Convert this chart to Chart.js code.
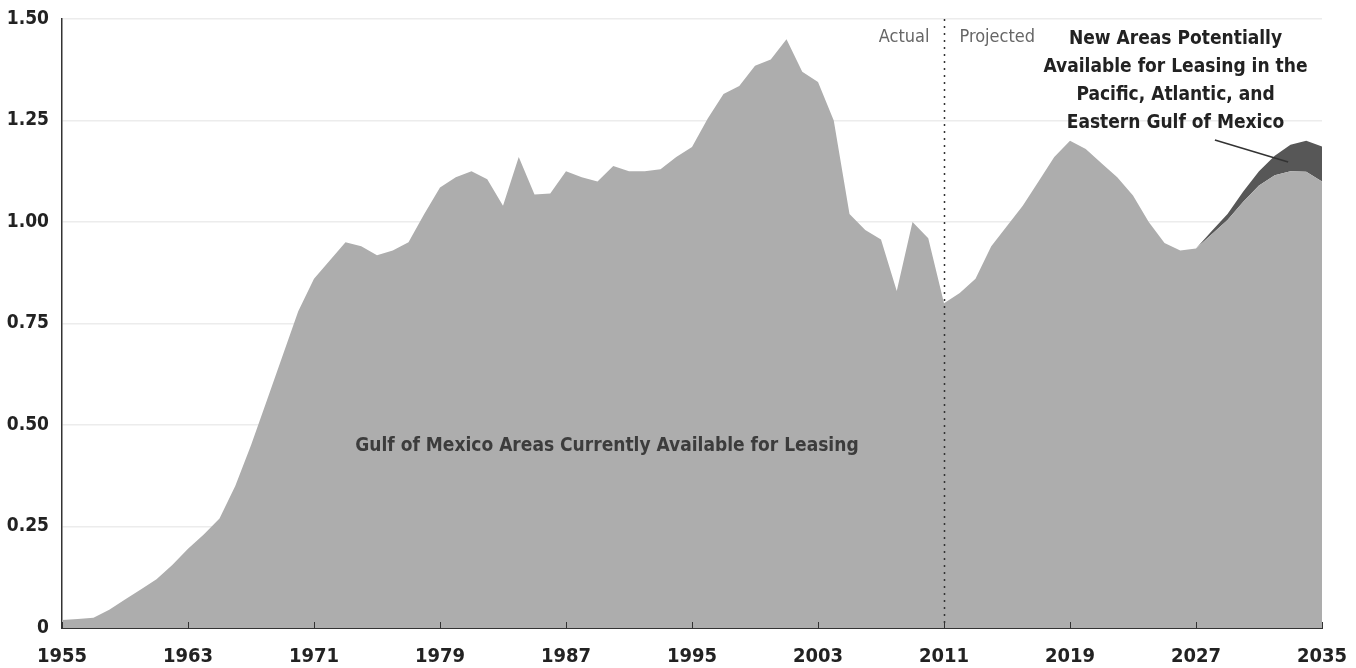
<!DOCTYPE html>
<html>
<head>
<meta charset="utf-8">
<script src="https://cdn.jsdelivr.net/npm/chart.js@4.4.1/dist/chart.umd.min.js"></script>
<style>
  html, body { margin: 0; padding: 0; background: #fff; }
  #wrap { width: 1356px; height: 668px; position: relative; }
</style>
</head>
<body>
<div id="wrap"><canvas id="chart" width="1356" height="668"></canvas></div>
<script>
// Gulf of Mexico areas currently available for leasing, 1955-2035
const years = [];
for (let y = 1955; y <= 2035; y++) years.push(y);

const gulfValues = [
  0.02, 0.022, 0.025, 0.045, 0.07, 0.095, 0.12, 0.155, 0.195, 0.23,   // 1955-1964
  0.27, 0.35, 0.45, 0.56, 0.67, 0.78, 0.86, 0.905, 0.95, 0.94,        // 1965-1974
  0.918, 0.93, 0.95, 1.02, 1.085, 1.11, 1.125, 1.105, 1.04, 1.16,     // 1975-1984
  1.068, 1.07, 1.125, 1.11, 1.10, 1.138, 1.125, 1.125, 1.13, 1.16,    // 1985-1994
  1.185, 1.255, 1.315, 1.335, 1.385, 1.40, 1.45, 1.37, 1.345, 1.25,   // 1995-2004
  1.02, 0.98, 0.957, 0.83, 1.0, 0.96, 0.80, 0.825, 0.86, 0.94,        // 2005-2014
  0.99, 1.04, 1.10, 1.16, 1.20, 1.18, 1.145, 1.11, 1.065, 1.0,        // 2015-2024
  0.948, 0.93, 0.935, 0.97, 1.005, 1.05, 1.09, 1.115, 1.125, 1.124,   // 2025-2034
  1.10                                                                // 2035
];

// new areas (Pacific, Atlantic, Eastern Gulf), stacked on top
const newAreaYears = [2027, 2028, 2029, 2030, 2031, 2032, 2033, 2034, 2035];
const newAreaValues = [0, 0.008, 0.015, 0.025, 0.035, 0.048, 0.065, 0.076, 0.086];

const yTicks = [0, 0.25, 0.5, 0.75, 1.0, 1.25, 1.5];
const xTicks = [1955, 1963, 1971, 1979, 1987, 1995, 2003, 2011, 2019, 2027, 2035];

const splitYear = 2011;
const calloutLines = [
  'New Areas Potentially',
  'Available for Leasing in the',
  'Pacific, Atlantic, and',
  'Eastern Gulf of Mexico'
];
const areaLabel = 'Gulf of Mexico Areas Currently Available for Leasing';

const FONT = '"Liberation Sans Narrow", "DejaVu Sans Condensed", "Liberation Sans", sans-serif';

const annotations = {
  id: 'annotations',
  afterDatasetsDraw(chart) {
    const { ctx, chartArea, scales: { x, y } } = chart;
    ctx.save();

    // x tick marks pointing inward
    ctx.strokeStyle = '#333';
    ctx.lineWidth = 1;
    xTicks.forEach(t => {
      const px = Math.round(x.getPixelForValue(t)) + 0.5;
      ctx.beginPath();
      ctx.moveTo(px, chartArea.bottom);
      ctx.lineTo(px, chartArea.bottom - 6);
      ctx.stroke();
    });

    // actual / projected divider
    const sx = Math.round(x.getPixelForValue(splitYear)) + 0.5;
    ctx.setLineDash([2, 5]);
    ctx.lineWidth = 1.5;
    ctx.strokeStyle = '#333';
    ctx.beginPath();
    ctx.moveTo(sx, chartArea.top);
    ctx.lineTo(sx, chartArea.bottom);
    ctx.stroke();
    ctx.setLineDash([]);

    ctx.font = '18px ' + FONT;
    ctx.fillStyle = '#666';
    ctx.textBaseline = 'middle';
    ctx.textAlign = 'right';
    ctx.fillText('Actual', sx - 15, chartArea.top + 18);
    ctx.textAlign = 'left';
    ctx.fillText('Projected', sx + 15, chartArea.top + 18);

    // callout
    ctx.font = 'bold 19px ' + FONT;
    ctx.fillStyle = '#222';
    ctx.textAlign = 'center';
    const cx = x.getPixelForValue(2025.7);
    calloutLines.forEach((line, i) => {
      ctx.fillText(line, cx, chartArea.top + 20 + i * 28);
    });
    ctx.strokeStyle = '#333';
    ctx.lineWidth = 1.5;
    ctx.beginPath();
    ctx.moveTo(x.getPixelForValue(2028.2), y.getPixelForValue(1.202));
    ctx.lineTo(x.getPixelForValue(2032.85), y.getPixelForValue(1.148));
    ctx.stroke();

    // area label
    ctx.font = 'bold 19px ' + FONT;
    ctx.fillStyle = '#3c3c3c';
    ctx.fillText(areaLabel, x.getPixelForValue(1989.6), y.getPixelForValue(0.448));

    ctx.restore();
  }
};

new Chart(document.getElementById('chart'), {
  type: 'line',
  data: {
    datasets: [
      {
        label: 'Gulf of Mexico Areas Currently Available for Leasing',
        data: years.map((yr, i) => ({ x: yr, y: gulfValues[i] })),
        fill: 'origin',
        backgroundColor: '#adadad',
        borderWidth: 0,
        pointRadius: 0,
        tension: 0
      },
      {
        label: 'New Areas Potentially Available for Leasing',
        data: newAreaYears.map((yr, i) => ({ x: yr, y: newAreaValues[i] })),
        fill: '-1',
        backgroundColor: '#575757',
        borderWidth: 0,
        pointRadius: 0,
        tension: 0
      }
    ]
  },
  options: {
    responsive: false,
    animation: false,
    devicePixelRatio: 1,
    layout: { padding: { top: 19, right: 34, left: 0, bottom: 0 } },
    plugins: {
      legend: { display: false },
      tooltip: { enabled: false }
    },
    scales: {
      x: {
        type: 'linear',
        min: 1955,
        max: 2035,
        afterBuildTicks: (scale) => { scale.ticks = xTicks.map(v => ({ value: v })); },
        afterFit: (scale) => {
          scale.height = 40;
          scale.paddingLeft = 0;
          scale.paddingRight = 0;
        },
        ticks: {
          callback: (v) => String(v),
          color: '#222',
          padding: 17,
          maxRotation: 0,
          autoSkip: false,
          font: { family: FONT, size: 20, weight: 'bold' }
        },
        grid: { drawOnChartArea: false, drawTicks: false },
        border: { display: true, color: '#333', width: 2 }
      },
      y: {
        stacked: true,
        min: 0,
        max: 1.5,
        afterBuildTicks: (scale) => { scale.ticks = yTicks.map(v => ({ value: v })); },
        afterFit: (scale) => {
          scale.width = 62;
          scale.paddingTop = 0;
          scale.paddingBottom = 0;
        },
        ticks: {
          callback: (v) => v === 0 ? '0' : v.toFixed(2),
          color: '#222',
          padding: 13,
          font: { family: FONT, size: 19, weight: 'bold' }
        },
        grid: { color: '#ececec', lineWidth: 1.5, drawTicks: false },
        border: { display: true, color: '#333', width: 1.5 }
      }
    }
  },
  plugins: [annotations]
});
</script>
</body>
</html>
